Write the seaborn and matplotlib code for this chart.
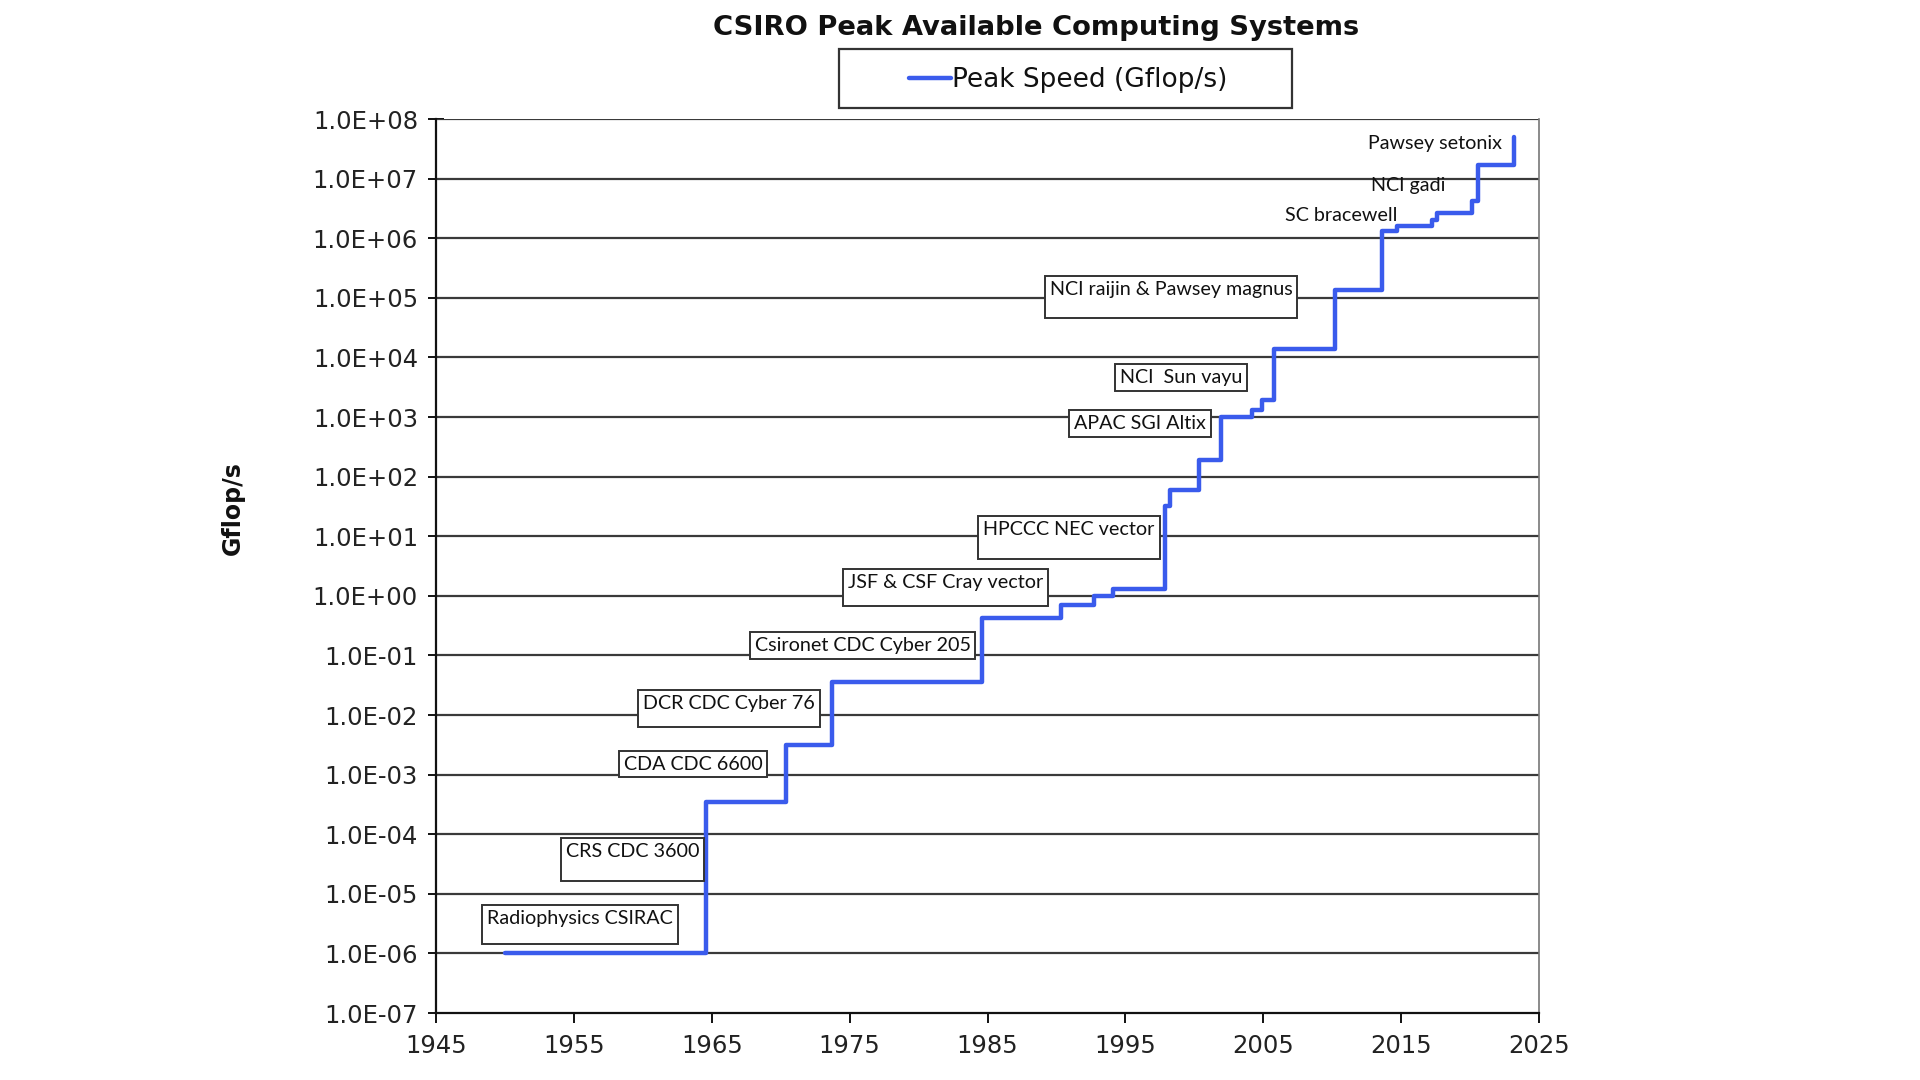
import matplotlib
matplotlib.use("Agg")
import matplotlib.pyplot as plt
import seaborn as sns
import pandas as pd
from matplotlib.patches import Rectangle
from matplotlib.ticker import FixedLocator, FixedFormatter

# ---------------- data ----------------
years = [1950, 1964.6, 1970.4, 1973.7, 1984.6, 1990.3, 1992.7, 1994.1,
         1997.9, 1998.2, 2000.3, 2001.9, 2004.2, 2004.9, 2005.8, 2010.2,
         2013.6, 2014.7, 2017.2, 2017.6, 2020.1, 2020.6, 2023.2]
peak_gflops = [1e-6, 3.5e-4, 3.2e-3, 0.036, 0.42, 0.70, 1.0, 1.3,
               32, 60, 190, 1000, 1300, 1900, 14000, 1.35e5,
               1.3e6, 1.6e6, 2.0e6, 2.6e6, 4.2e6, 1.7e7, 5e7]

system_names = ["Radiophysics CSIRAC", "CRS CDC 3600", "CDA CDC 6600",
                "DCR CDC Cyber 76", "Csironet CDC Cyber 205",
                "JSF & CSF Cray vector", "HPCCC NEC vector", "APAC SGI Altix",
                "NCI  Sun vayu", "NCI raijin & Pawsey magnus",
                "SC bracewell", "NCI gadi", "Pawsey setonix"]

x_ticks = [1945, 1955, 1965, 1975, 1985, 1995, 2005, 2015, 2025]
y_ticks = [1e-7, 1e-6, 1e-5, 1e-4, 1e-3, 1e-2, 1e-1, 1e0,
           1e1, 1e2, 1e3, 1e4, 1e5, 1e6, 1e7, 1e8]
y_tick_labels = ["1.0E-07", "1.0E-06", "1.0E-05", "1.0E-04", "1.0E-03",
                 "1.0E-02", "1.0E-01", "1.0E+00", "1.0E+01", "1.0E+02",
                 "1.0E+03", "1.0E+04", "1.0E+05", "1.0E+06", "1.0E+07",
                 "1.0E+08"]

series_label = "Peak Speed (Gflop/s)"
title = "CSIRO Peak Available Computing Systems"
y_title = "Gflop/s"

# ---------------- annotation placement (year, log10 value of text top-left) ----
label_pos_x = [1948.7, 1954.4, 1958.6, 1960.0, 1968.1, 1974.9, 1984.7,
               1991.3, 1994.6, 1989.5, 2006.6, 2012.8, 2012.6]
label_pos_logy = [-5.27, -4.14, -2.68, -1.66, -0.69, 0.36, 1.26,
                  3.03, 3.80, 5.28, 6.53, 7.03, 7.73]
label_boxed = [True] * 10 + [False] * 3
# extra empty space under the text inside each box (fraction of a line)
label_box_extra = [0.63, 0.94, 0, 0.55, 0, 0.47, 0.94, 0, 0, 0.86, 0, 0, 0]

# ---------------- figure ----------------
sns.set_style("white")
plt.rcParams["font.family"] = ["DejaVu Sans"]

fig = plt.figure(figsize=(19.2, 10.8), dpi=100)
ax = fig.add_axes([0.2271, 0.0620, 0.8016 - 0.2271, 0.8898 - 0.0620])

df = pd.DataFrame({"year": years, "peak": peak_gflops})
sns.lineplot(data=df, x="year", y="peak", ax=ax, drawstyle="steps-post",
             estimator=None, sort=False, color="#3a5bec", linewidth=3.2,
             label=series_label)

ax.set_yscale("log")
ax.set_xlim(1945, 2025)
ax.set_ylim(1e-7, 1e8)
ax.yaxis.set_major_locator(FixedLocator(y_ticks))
ax.yaxis.set_major_formatter(FixedFormatter(y_tick_labels))
ax.yaxis.set_minor_locator(FixedLocator([]))
ax.set_xticks(x_ticks)
ax.set_xticklabels([str(v) for v in x_ticks])

for yv in y_ticks[1:]:
    ax.axhline(yv, color="#3a3a3a", linewidth=1.6, zorder=1)

ax.set_xlabel("")
ax.set_ylabel("")
for side in ["left", "bottom"]:
    ax.spines[side].set_color("#111111")
    ax.spines[side].set_linewidth(1.6)
ax.spines["top"].set_visible(False)
ax.spines["right"].set_color("#777777")
ax.spines["right"].set_linewidth(1.2)

ax.tick_params(axis="y", direction="inout", length=12, width=1.4,
               labelsize=17.5, pad=7, colors="#111111", left=True)
ax.tick_params(axis="x", direction="out", length=7, width=1.4,
               labelsize=17.5, pad=8, colors="#111111", bottom=True)
for t in ax.get_xticklabels() + ax.get_yticklabels():
    t.set_color("#222222")

# annotations
label_font = ["Lato", "DejaVu Sans"]
for name, xv, ly, boxed, extra in zip(system_names, label_pos_x, label_pos_logy,
                                      label_boxed, label_box_extra):
    kw = dict(ha="left", va="top", fontsize=14.2, family=label_font,
              color="#111111", zorder=5)
    txt = name
    if boxed:
        kw["bbox"] = dict(boxstyle="square,pad=0.25", fc="white",
                          ec="#333333", lw=1.4)
        if extra > 0:
            txt = name + "\n"
            kw["linespacing"] = extra
    ax.text(xv, 10 ** ly, txt, **kw)

# legend
leg = ax.legend(loc="center", bbox_to_anchor=(0.5563, 0.9255),
                bbox_transform=fig.transFigure, frameon=False,
                handlelength=1.58, handletextpad=0.05, fontsize=19)
for t in leg.get_texts():
    t.set_color("#111111")
fig.patches.append(Rectangle((0.437, 0.900), 0.2359, 0.0546,
                             transform=fig.transFigure, fill=False,
                             ec="#333333", lw=1.6))

fig.text(0.5396, 0.974, title, ha="center", va="center", fontsize=19.7,
         fontweight="bold", color="#111111")
fig.text(0.1214, 0.5296, y_title, ha="center", va="center", rotation=90,
         fontsize=17, fontweight="bold", color="#111111")

fig.savefig("out.png", dpi=100, facecolor="white")
